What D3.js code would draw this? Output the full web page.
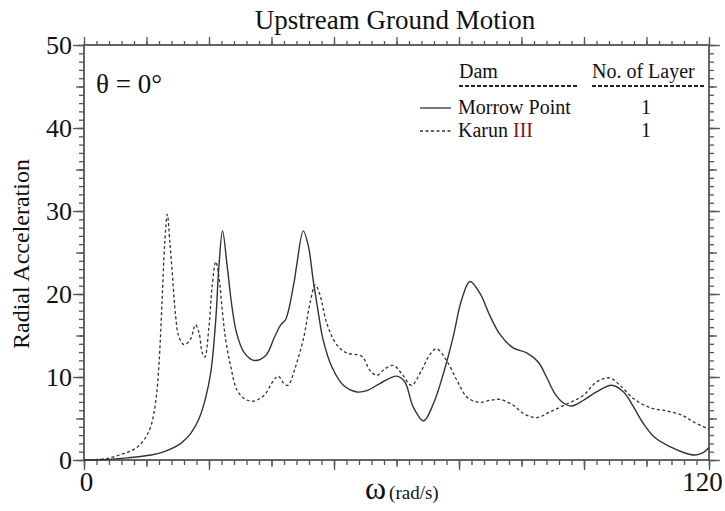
<!DOCTYPE html>
<html><head><meta charset="utf-8">
<script src="https://cdn.jsdelivr.net/npm/d3@7"></script>
<style>
html,body{margin:0;padding:0;background:#fff;}
svg{display:block;font-family:"Liberation Serif","Times New Roman",serif;}
</style></head>
<body>
<svg id="chart" width="725" height="511"></svg>
<script>
// ---- data ----
const morrowX = [0,4,8.3,12.9,15.4,18.6,20.5,22.1,23.4,24.4,25.3,25.9,26.6,27.5,28.4,29.3,30.7,32.6,34.9,36.5,37.8,38.7,40.3,40.8,42.1,43.1,44.0,45.0,45.9,47.6,49.8,52.4,54.3,56.8,60.0,61.6,63.2,65.2,67.1,69.0,70.9,72.5,74.1,76.0,78.0,79.9,82.4,85.0,87.2,88.8,90.4,92.0,93.6,95.9,98.4,101.3,103.6,105.5,107.4,109.6,112.5,115.1,117.3,118.9,120];
const morrowY = [0,0.05,0.25,0.6,1.0,2.0,3.2,5.0,7.6,10.8,16.9,23.3,27.6,23.3,18.5,15.3,13.0,12.0,12.6,14.7,16.3,16.9,21.3,23.3,27.6,25.7,21.7,17.7,14.5,11.2,9.0,8.2,8.35,9.2,10.1,9.4,6.4,4.7,6.8,10.4,14.9,19.3,21.5,20.1,17.3,15.1,13.5,12.9,11.8,10.0,8.0,6.9,6.5,7.2,8.2,9.0,8.2,6.4,4.4,2.7,1.6,0.9,0.6,0.9,1.5];
const karunX = [0,4.5,7.7,9.9,11.5,12.8,13.8,14.4,15.0,15.5,16.0,16.5,17.0,17.6,18.2,19.2,20.4,21.4,22.1,22.7,23.2,24.0,24.6,25.3,25.9,26.6,27.2,28.2,29.4,31.0,32.6,34.6,36.2,37.3,38.4,39.2,40.3,40.8,42.1,43.4,44.4,45.3,46.6,48.5,50.4,53.3,54.9,56.2,57.8,59.4,61.0,62.9,64.8,66.4,67.7,69.6,71.6,73.5,75.7,78.0,79.9,82.4,84.4,86.9,89.5,92.7,95.9,98.4,100.9,102.9,105.5,108.7,111.9,114.8,117.0,120];
const karunY = [0,0.2,0.8,1.4,2.4,4.0,7.2,11.6,19.3,26.1,29.6,26.1,22.1,17.3,14.9,13.9,14.5,16.3,15.3,12.9,12.4,16.1,20.9,23.9,22.1,17.7,14.5,11.2,8.4,7.3,7.1,7.8,9.4,10.1,9.2,9.0,10.6,11.6,14.5,18.9,21.1,19.9,16.5,13.9,12.9,12.5,10.8,10.2,11.0,11.4,10.4,9.0,10.8,12.7,13.4,12.0,9.6,7.6,6.95,7.2,7.3,6.6,5.6,5.1,5.8,6.75,7.8,9.4,9.9,9.0,7.4,6.3,5.9,5.4,4.6,3.7];
const yTickLabels = [0,10,20,30,40,50];
const xTickLabels = [0,120];
const legendNames = ["Morrow Point","Karun III"];
const legendLayers = ["1","1"];

// ---- layout ----
const svg = d3.select("#chart");
const L = 84, R = 709, T = 45, B = 460;
const x = d3.scaleLinear().domain([0,120]).range([L,R]);
const y = d3.scaleLinear().domain([0,50]).range([B,T]);
const axisCol = "#555";

function ticksAxis(gen, vals, size, tr){
  const g = svg.append("g").attr("transform", tr)
    .call(gen.tickValues(vals).tickSize(size).tickFormat(""));
  g.select(".domain").remove();
  g.selectAll("line").attr("stroke", axisCol).attr("stroke-width", 1.3);
  return g;
}
const r = (a,b,s)=>d3.range(a,b+1e-6,s).map(v=>+v.toFixed(3));
// bottom
ticksAxis(d3.axisBottom(x), r(0,120,2.4), 5, `translate(0,${B})`);
ticksAxis(d3.axisBottom(x), r(0,120,12), 7, `translate(0,${B})`);
ticksAxis(d3.axisBottom(x), r(0,120,24), 10, `translate(0,${B})`);
// top
ticksAxis(d3.axisTop(x), r(0,120,2.4), 4, `translate(0,${T})`);
ticksAxis(d3.axisTop(x), r(0,120,12), 8, `translate(0,${T})`);
// left
ticksAxis(d3.axisLeft(y), r(0,50,1), 5, `translate(${L},0)`);
ticksAxis(d3.axisLeft(y), r(0,50,5), 8, `translate(${L},0)`);
ticksAxis(d3.axisLeft(y), r(0,50,10), 11, `translate(${L},0)`);
// right
ticksAxis(d3.axisRight(y), r(0,50,1), 5, `translate(${R},0)`);
ticksAxis(d3.axisRight(y), r(0,50,5), 8, `translate(${R},0)`);
ticksAxis(d3.axisRight(y), r(0,50,10), 11, `translate(${R},0)`);

// frame
svg.append("rect").attr("x",L).attr("y",T).attr("width",R-L).attr("height",B-T)
  .attr("fill","none").attr("stroke",axisCol).attr("stroke-width",1.8);

// y tick labels
const yl = svg.append("g").attr("transform",`translate(${L},0)`)
  .call(d3.axisLeft(y).tickValues(yTickLabels).tickSize(0).tickPadding(12).tickFormat(d3.format("d")));
yl.select(".domain").remove();
yl.selectAll("text").attr("font-family","Liberation Serif, serif").attr("font-size",26).attr("fill","#111").attr("dy","0.34em");

// x tick labels
const xl = svg.append("g").attr("transform",`translate(0,${B})`)
  .call(d3.axisBottom(x).tickValues(xTickLabels).tickSize(0).tickPadding(12).tickFormat(d3.format("d")));
xl.select(".domain").remove();
xl.selectAll("text").attr("font-family","Liberation Serif, serif").attr("font-size",27).attr("fill","#111")
  .attr("dx", d => d===120 ? -7 : 2);

// lines
const line = d3.line().x(d=>x(d[0])).y(d=>y(d[1])).curve(d3.curveCatmullRom.alpha(0.5));
svg.append("path").datum(d3.zip(morrowX, morrowY)).attr("d", line)
  .attr("fill","none").attr("stroke","#333").attr("stroke-width",1.4);
svg.append("path").datum(d3.zip(karunX, karunY)).attr("d", line)
  .attr("fill","none").attr("stroke","#333").attr("stroke-width",1.3).attr("stroke-dasharray","3,2.5");

// title
svg.append("text").attr("x",395).attr("y",29).attr("text-anchor","middle")
  .attr("font-size",27).attr("fill","#111").text("Upstream Ground Motion");

// y axis title
svg.append("text").attr("transform","translate(29,254) rotate(-90)").attr("text-anchor","middle")
  .attr("font-size",24).attr("fill","#111").text("Radial Acceleration");

// x axis title
const xt = svg.append("text").attr("x",365).attr("y",499).attr("fill","#111");
xt.append("tspan").attr("font-size",32).text("ω");
xt.append("tspan").attr("font-size",19).attr("dx",3).text("(rad/s)");

// theta annotation
svg.append("text").attr("x",96).attr("y",93).attr("font-size",27).attr("fill","#111").text("θ = 0°");

// legend
const lg = svg.append("g");
lg.append("text").attr("x",459).attr("y",78).attr("font-size",20).attr("fill","#111").text("Dam");
lg.append("text").attr("x",592).attr("y",78).attr("font-size",20).attr("fill","#111").text("No. of  Layer");
lg.append("line").attr("x1",459).attr("x2",579).attr("y1",86).attr("y2",86)
  .attr("stroke","#222").attr("stroke-width",2).attr("stroke-dasharray","4,2");
lg.append("line").attr("x1",592).attr("x2",704).attr("y1",86).attr("y2",86)
  .attr("stroke","#222").attr("stroke-width",2).attr("stroke-dasharray","4,2");
const styles = [null,"3,2.5"];
legendNames.forEach((n,i)=>{
  const yy = 114 + i*23;
  const ln = lg.append("line").attr("x1",420).attr("x2",451).attr("y1",yy-6).attr("y2",yy-6)
    .attr("stroke","#333").attr("stroke-width",1.3);
  if (styles[i]) ln.attr("stroke-dasharray",styles[i]);
  const t = lg.append("text").attr("x",458).attr("y",yy).attr("font-size",20).attr("fill","#111");
  if (n === "Karun III") {
    t.append("tspan").text("Karun ");
    t.append("tspan").attr("fill","#7a1414").text("III");
  } else t.text(n);
  lg.append("text").attr("x",646).attr("y",yy).attr("text-anchor","middle").attr("font-size",20).attr("fill","#111").text(legendLayers[i]);
});
</script>
</body></html>
